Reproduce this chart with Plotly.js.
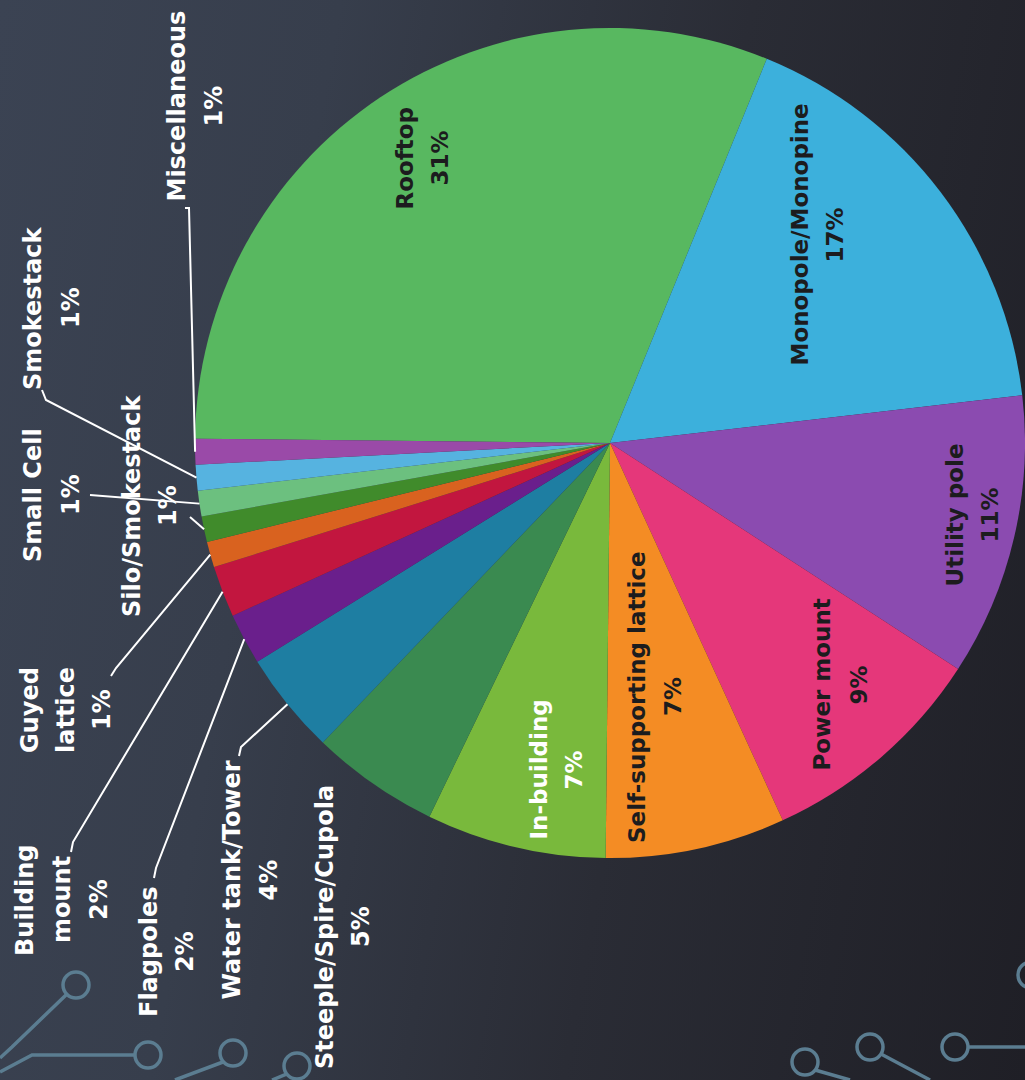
<!DOCTYPE html>
<html>
<head>
<meta charset="utf-8">
<script src="https://cdn.plot.ly/plotly-3.0.1.min.js"></script>
<style>
html,body{margin:0;padding:0;width:1025px;height:1080px;overflow:hidden;
background:linear-gradient(100deg,#3b4353 0%,#373e4c 28%,#2a2c35 62%,#1f1f26 100%);}
#chart{width:1025px;height:1080px;}
</style>
</head>
<body>
<div id="chart"></div>
<script>
// ---------- data ----------
const categories = ['Rooftop','Monopole/Monopine','Utility pole','Power mount','Self-supporting lattice',
  'In-building','Steeple/Spire/Cupola','Water tank/Tower','Flagpoles','Building mount','Guyed lattice',
  'Silo/Smokestack','Small Cell','Smokestack','Miscellaneous'];
const shares = [31,17,11,9,7,7,5,4,2,2,1,1,1,1,1];
const sliceColors = ['#58b860','#3cb0dc','#8b4bb0','#e5377a','#f48c24','#79b93c','#3a8a50','#1e7ea2',
  '#6a1f8c','#c2163f','#d9621f','#408b2b','#6cc07f','#56b3e0','#9a4aa8'];

// ---------- layout constants ----------
const W = 1025, H = 1080;
const CX = 610, CY = 443, R = 415;   // pie centre / radius in pixels
const ROT = -89.4;                   // start angle of first slice (deg, clockwise from 12 o'clock)
const P = (px, py) => [px / W, 1 - py / H];

// label placement (pixel centre of text block), text colour, font size, line gap, wrap, leader polyline start
const labelStyle = [
  {x:422, y:158, c:'#1c1c1e', s:23, g:35},
  {x:817, y:235, c:'#1c1c1e', s:23, g:35},
  {x:972, y:515, c:'#1c1c1e', s:23, g:35},
  {x:840, y:685, c:'#1c1c1e', s:23, g:37},
  {x:655, y:697, c:'#1c1c1e', s:23, g:36},
  {x:556, y:770, c:'#ffffff', s:23, g:35},
  {x:343, y:927, c:'#ffffff', s:24, g:36},
  {x:250, y:880, c:'#ffffff', s:24, g:37, lead:[[239,756],[241,747]]},
  {x:167, y:952, c:'#ffffff', s:24, g:36, lead:[[154,878],[156,868]]},
  {x:62,  y:900, c:'#ffffff', s:24, g:37, wrap:true, lead:[[71,852],[73,842]]},
  {x:66,  y:710, c:'#ffffff', s:24, g:36, wrap:true, lead:[[111,676],[116,668]]},
  {x:150, y:506, c:'#ffffff', s:24, g:36, lead:[[190,517]]},
  {x:52,  y:495, c:'#ffffff', s:24, g:38, lead:[[90,495]]},
  {x:52,  y:308, c:'#ffffff', s:24, g:38, lead:[[42,390],[46,400]]},
  {x:195, y:106, c:'#ffffff', s:24, g:37, lead:[[185,208],[189,208]]}
];

const FONT = '"DejaVu Sans", Lato, sans-serif';
const total = shares.reduce((a, b) => a + b, 0);

// ---------- annotations + leader lines ----------
const annotations = [];
const shapes = [];
let cum = 0;
categories.forEach((name, i) => {
  const v = shares[i];
  const mid = (ROT + 360 * (cum + v / 2) / total) * Math.PI / 180;
  cum += v;
  const st = labelStyle[i];
  const lines = (st.wrap ? name.split(' ') : [name]).concat([v + '%']);
  const n = lines.length;
  lines.forEach((txt, k) => {
    const [ax, ay] = P(st.x + (k - (n - 1) / 2) * st.g, st.y);
    annotations.push({
      xref:'paper', yref:'paper', x:ax, y:ay, xanchor:'center', yanchor:'middle',
      text: txt, showarrow:false, textangle:-90, align:'center',
      font:{family:FONT, size:st.s, color:st.c, weight:700}
    });
  });
  if (st.lead) {
    const edge = [CX + R * Math.sin(mid), CY - R * Math.cos(mid)];
    const pts = st.lead.concat([edge]).map(p => P(p[0], p[1]));
    const d = pts.map((p, k) => (k ? 'L' : 'M') + p[0].toFixed(5) + ',' + p[1].toFixed(5)).join(' ');
    shapes.push({type:'path', xref:'paper', yref:'paper', path:d, line:{color:'#ffffff', width:2}});
  }
});

// ---------- decorative circuit traces ----------
const circ = '#5b7d91';
const nodes = [[76,985],[148,1055],[233,1053],[297,1066],[805,1062],[870,1047],[955,1047],[1031,975]];
nodes.forEach(n => {
  const a = P(n[0] - 13, n[1] - 13), b = P(n[0] + 13, n[1] + 13);
  shapes.push({type:'circle', xref:'paper', yref:'paper', x0:a[0], y0:b[1], x1:b[0], y1:a[1],
    line:{color:circ, width:3.5}, fillcolor:'rgba(0,0,0,0)'});
});
const traces = [
  [[67,994],[12,1047],[0,1058]],
  [[135,1055],[32,1055],[0,1072]],
  [[223,1062],[175,1080]],
  [[287,1074],[272,1080]],
  [[815,1070],[850,1080]],
  [[881,1054],[930,1080]],
  [[968,1047],[1025,1047]]
];
traces.forEach(t => {
  const d = t.map(p => P(p[0], p[1])).map((p, k) => (k ? 'L' : 'M') + p[0].toFixed(5) + ',' + p[1].toFixed(5)).join(' ');
  shapes.push({type:'path', xref:'paper', yref:'paper', path:d, line:{color:circ, width:3.5}});
});

// ---------- pie ----------
const trace = {
  type:'pie', labels:categories, values:shares, sort:false, direction:'clockwise', rotation:ROT,
  marker:{colors:sliceColors, line:{width:0}}, textinfo:'none', hoverinfo:'label+percent',
  domain:{x:[(CX - R) / W, (CX + R) / W], y:[1 - (CY + R) / H, 1 - (CY - R) / H]},
  showlegend:false
};

Plotly.newPlot('chart', [trace], {
  width:W, height:H, margin:{l:0, r:0, t:0, b:0},
  paper_bgcolor:'rgba(0,0,0,0)', plot_bgcolor:'rgba(0,0,0,0)',
  showlegend:false, annotations:annotations, shapes:shapes
}, {staticPlot:true});
</script>
</body>
</html>
